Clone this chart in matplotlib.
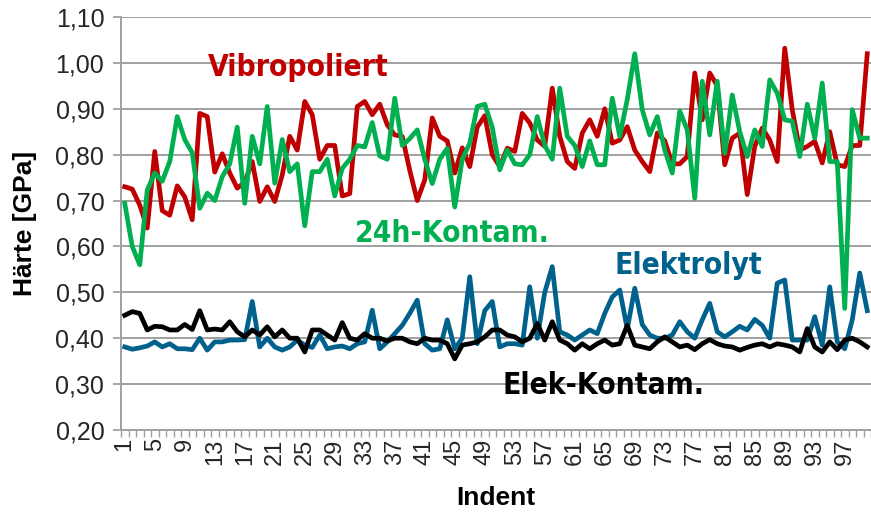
import matplotlib
matplotlib.use("Agg")
import matplotlib.pyplot as plt
from matplotlib import font_manager
from matplotlib.ticker import FixedLocator, FuncFormatter
import numpy as np

# hardness per indent
indent = np.arange(1, 101)

vibro = [
    0.73, 0.725, 0.69, 0.64, 0.807, 0.678, 0.668, 0.732, 0.708, 0.658,
    0.89, 0.883, 0.762, 0.802, 0.76, 0.727, 0.74, 0.785, 0.698, 0.73,
    0.698, 0.756, 0.84, 0.81, 0.916, 0.887, 0.79, 0.82, 0.82, 0.71,
    0.715, 0.905, 0.916, 0.887, 0.91, 0.865, 0.843, 0.84, 0.766, 0.70,
    0.745, 0.88, 0.84, 0.83, 0.76, 0.815, 0.774, 0.86, 0.885, 0.80,
    0.774, 0.814, 0.807, 0.89, 0.869, 0.832, 0.818, 0.945, 0.84, 0.785,
    0.77, 0.847, 0.876, 0.84, 0.90, 0.825, 0.832, 0.861, 0.81, 0.785,
    0.763, 0.847, 0.83, 0.78, 0.78, 0.796, 0.978, 0.876, 0.978, 0.95,
    0.778, 0.836, 0.847, 0.713, 0.818, 0.858, 0.832, 0.785, 1.032, 0.898,
    0.81, 0.818, 0.829, 0.782, 0.85, 0.778, 0.774, 0.82, 0.82, 1.02,
]

kontam24 = [
    0.694, 0.60, 0.56, 0.723, 0.76, 0.742, 0.785, 0.883, 0.833, 0.804,
    0.683, 0.716, 0.70, 0.752, 0.78, 0.86, 0.694, 0.84, 0.78, 0.905,
    0.738, 0.833, 0.763, 0.78, 0.645, 0.763, 0.763, 0.79, 0.71, 0.77,
    0.79, 0.82, 0.817, 0.87, 0.797, 0.79, 0.923, 0.82, 0.835, 0.854,
    0.79, 0.737, 0.79, 0.814, 0.686, 0.79, 0.825, 0.905, 0.91, 0.86,
    0.767, 0.81, 0.78, 0.778, 0.80, 0.883, 0.82, 0.79, 0.945, 0.84,
    0.82, 0.774, 0.83, 0.778, 0.778, 0.923, 0.84, 0.92, 1.02, 0.898,
    0.843, 0.883, 0.81, 0.76, 0.895, 0.854, 0.705, 0.96, 0.843, 0.96,
    0.803, 0.93, 0.85, 0.796, 0.854, 0.818, 0.963, 0.934, 0.876, 0.873,
    0.796, 0.91, 0.836, 0.956, 0.785, 0.785, 0.465, 0.898, 0.836, 0.836,
]

elektrolyt = [
    0.381, 0.376, 0.379, 0.383, 0.392, 0.381, 0.388, 0.377, 0.377, 0.375,
    0.40, 0.374, 0.392, 0.392, 0.396, 0.396, 0.397, 0.48, 0.381, 0.40,
    0.381, 0.374, 0.381, 0.396, 0.385, 0.38, 0.407, 0.377, 0.381, 0.383,
    0.377, 0.388, 0.392, 0.461, 0.377, 0.392, 0.41, 0.428, 0.454, 0.483,
    0.388, 0.374, 0.377, 0.44, 0.377, 0.40, 0.534, 0.388, 0.46, 0.48,
    0.381, 0.388, 0.388, 0.385, 0.512, 0.40, 0.50, 0.556, 0.414, 0.407,
    0.396, 0.407, 0.418, 0.41, 0.454, 0.49, 0.505, 0.42, 0.509, 0.43,
    0.407, 0.40, 0.40, 0.407, 0.436, 0.414, 0.40, 0.44, 0.476, 0.414,
    0.403, 0.414, 0.426, 0.418, 0.441, 0.428, 0.40, 0.52, 0.527, 0.396,
    0.396, 0.396, 0.447, 0.385, 0.512, 0.392, 0.377, 0.44, 0.542, 0.46,
]

elek_kontam = [
    0.45, 0.458, 0.454, 0.418, 0.426, 0.425, 0.418, 0.418, 0.43, 0.419,
    0.46, 0.418, 0.42, 0.418, 0.436, 0.414, 0.403, 0.418, 0.407, 0.425,
    0.403, 0.418, 0.40, 0.40, 0.37, 0.418, 0.418, 0.407, 0.396, 0.434,
    0.40, 0.396, 0.41, 0.40, 0.40, 0.394, 0.40, 0.40, 0.392, 0.388,
    0.40, 0.396, 0.396, 0.388, 0.355, 0.385, 0.388, 0.392, 0.403, 0.418,
    0.418, 0.407, 0.403, 0.392, 0.40, 0.432, 0.396, 0.436, 0.396, 0.388,
    0.374, 0.388, 0.377, 0.388, 0.396, 0.385, 0.388, 0.428, 0.385, 0.381,
    0.377, 0.392, 0.403, 0.392, 0.381, 0.385, 0.375, 0.388, 0.397, 0.388,
    0.383, 0.381, 0.374, 0.38, 0.385, 0.388, 0.381, 0.388, 0.385, 0.381,
    0.37, 0.421, 0.381, 0.37, 0.392, 0.375, 0.396, 0.40, 0.392, 0.381,
]

yticks = [0.2, 0.3, 0.4, 0.5, 0.6, 0.7, 0.8, 0.9, 1.0, 1.1]
xticks = list(range(1, 101, 4))

names = {f.name for f in font_manager.fontManager.ttflist}
base = 'Liberation Sans' if 'Liberation Sans' in names else 'DejaVu Sans'
plt.rcParams['font.family'] = [base, 'DejaVu Sans']

# a condensed bold face for the series labels, if one is installed
cond = None
for f in font_manager.fontManager.ttflist:
    n = f.name.lower()
    if f.weight in (700, 'bold') and ('narrow' in n or 'condensed' in n
                                      or f.stretch in ('condensed', 'semi-condensed')):
        if f.style == 'normal':
            cond = f.fname
            break
if cond:
    lab_font = dict(fontproperties=font_manager.FontProperties(fname=cond, size=21.5))
else:
    lab_font = dict(fontsize=21, fontweight='bold')

W, H = 871, 512
fig = plt.figure(figsize=(W / 100, H / 100), dpi=100)
ax = fig.add_axes([121 / W, 1 - 430 / H, 750 / W, 413 / H])

grey = '#A0A0A0'
lw = 3.4
ax.plot(indent, vibro, color='#C00000', lw=lw, solid_joinstyle='round')
ax.plot(indent, kontam24, color='#00B050', lw=lw, solid_joinstyle='round')
ax.plot(indent, elektrolyt, color='#00628C', lw=lw, solid_joinstyle='round')
ax.plot(indent, elek_kontam, color='#000000', lw=lw, solid_joinstyle='round')

ax.set_xlim(0.5, 100.5)
ax.set_ylim(0.2, 1.1)
ax.set_yticks(yticks)
ax.yaxis.set_major_formatter(FuncFormatter(lambda v, p: f"{v:.2f}".replace('.', ',')))
ax.grid(axis='y', color=grey, lw=1.4)
ax.set_axisbelow(True)

ax.xaxis.set_major_locator(FixedLocator(xticks))
ax.xaxis.set_minor_locator(FixedLocator(np.arange(0.5, 101, 1)))
ax.tick_params(axis='x', which='major', length=0, labelsize=17, rotation=90,
               pad=6, labelcolor='#262626')
ax.tick_params(axis='x', which='minor', length=5, width=1, color=grey)
ax.tick_params(axis='y', length=6, width=1.3, color=grey, labelsize=18,
               pad=6, labelcolor='#262626')

for s in ['top', 'right']:
    ax.spines[s].set_visible(False)
for s in ['left', 'bottom']:
    ax.spines[s].set_color(grey)
    ax.spines[s].set_linewidth(1.4)

fig.text(496 / W, 1 - 498 / H, 'Indent', ha='center', va='center',
         fontsize=19, fontweight='bold')
fig.text(25 / W, 1 - 223 / H, 'Härte [GPa]', ha='center', va='center',
         rotation=90, fontsize=19, fontweight='bold')

labels = [
    ('Vibropoliert', 298, 68, '#C00000'),
    ('24h-Kontam.', 452, 234, '#00B050'),
    ('Elektrolyt', 688, 266, '#00628C'),
    ('Elek-Kontam.', 603, 385, '#000000'),
]
for txt, x, y, c in labels:
    fig.text(x / W, 1 - y / H, txt, ha='center', va='center', color=c, **lab_font)

fig.savefig('out.png', dpi=100)
